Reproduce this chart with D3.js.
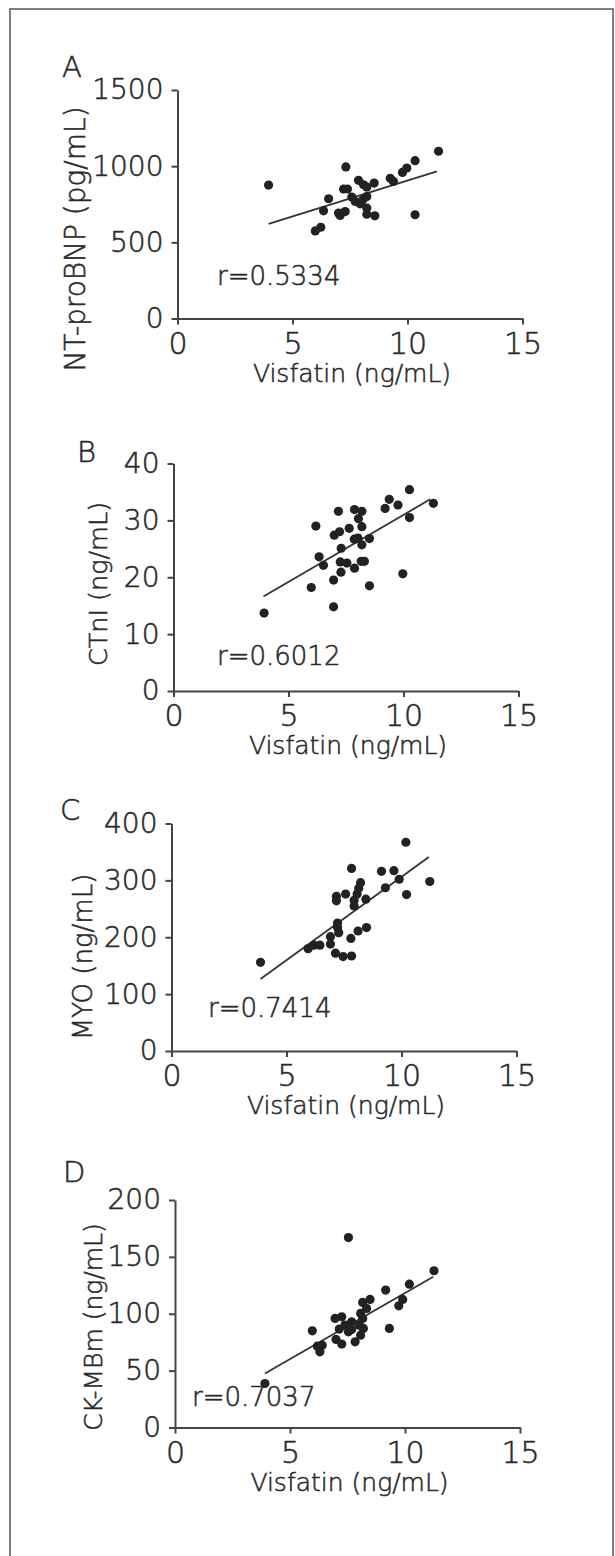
<!DOCTYPE html>
<html>
<head>
<meta charset="utf-8">
<script src="https://cdn.jsdelivr.net/npm/d3@7"></script>
<style>
  body { margin: 0; background: #fff; }
  svg text { font-family: "DejaVu Sans", sans-serif; font-weight: 300; fill: #2a2a2a; stroke: #2a2a2a; stroke-width: 0.55px; }
</style>
</head>
<body>
<div class="canvas"></div>
<script>
// values
const xTicks = [0, 5, 10, 15];
const xTitle = 'Visfatin (ng/mL)';

const visfatinA = [3.96, 7.32, 11.35, 10.33, 9.97, 9.78, 9.25, 9.39, 7.87, 8.09, 8.55, 8.23, 7.22, 7.39, 6.57, 7.58, 7.73, 8.06, 8.23, 7.94, 6.35, 7.0, 7.29, 7.07, 8.23, 8.23, 8.58, 10.33, 5.99, 6.23];
const ntprobnp = [876, 995, 1098, 1036, 988, 959, 920, 900, 907, 878, 889, 863, 850, 850, 786, 797, 768, 779, 801, 753, 707, 692, 702, 676, 725, 685, 674, 681, 575, 599];
const fitA = [[3.96, 621], [11.28, 966]];

const visfatinB = [3.94, 6.96, 5.99, 6.96, 8.52, 9.97, 7.28, 7.87, 6.52, 6.33, 7.25, 7.54, 8.16, 8.3, 7.29, 8.19, 7.86, 8.02, 8.52, 8.19, 7.64, 6.19, 6.99, 7.22, 7.17, 7.87, 8.19, 8.04, 9.2, 9.38, 9.76, 10.26, 11.3, 10.26];
const ctni = [13.7, 14.8, 18.2, 19.5, 18.5, 20.6, 20.9, 21.6, 22.1, 23.6, 22.7, 22.5, 22.8, 22.8, 25.1, 25.7, 26.7, 26.9, 26.8, 28.9, 28.6, 29.0, 27.4, 28.0, 31.6, 31.9, 31.6, 30.3, 32.1, 33.7, 32.7, 35.4, 33.0, 30.5];
const fitB = [[3.91, 16.6], [11.16, 33.7]];

const visfatinC = [3.87, 10.19, 11.23, 7.83, 9.13, 9.67, 9.9, 9.3, 10.22, 8.22, 8.14, 8.07, 7.17, 7.57, 7.17, 7.94, 8.45, 7.94, 7.22, 7.22, 7.27, 8.11, 8.48, 7.8, 6.91, 6.91, 5.94, 6.19, 6.45, 7.13, 7.46, 7.83];
const myo = [156, 367, 298, 321, 316, 317, 302, 287, 275, 296, 286, 276, 272, 276, 264, 265, 267, 255, 225, 217, 208, 211, 217, 198, 201, 188, 180, 186, 186, 172, 166, 167];
const fitC = [[3.87, 126.5], [11.19, 341]];

const visfatinD = [3.91, 7.54, 11.26, 10.19, 9.16, 9.9, 9.73, 9.32, 8.48, 8.16, 8.33, 8.07, 6.96, 7.25, 8.16, 7.68, 7.39, 8.01, 7.68, 7.14, 8.19, 5.97, 8.07, 7.0, 7.83, 7.25, 6.4, 6.19, 6.3, 7.54];
const ckmb = [38.7, 167, 137.8, 126, 120.8, 112.6, 107, 87.1, 112.6, 110, 104.7, 100.3, 95.9, 97.3, 95.9, 92.9, 90, 90, 86.2, 86.5, 87.1, 85, 81.2, 77.4, 75.3, 73.3, 72.4, 71.5, 66.5, 84.1];
const fitD = [[3.91, 47.5], [11.23, 132.5]];

const panelLetters = ['A', 'B', 'C', 'D'];
const yTitles = ['NT-proBNP (pg/mL)', 'CTnI (ng/mL)', 'MYO (ng/mL)', 'CK-MBm (ng/mL)'];
const yTicks = [[0, 500, 1000, 1500], [0, 10, 20, 30, 40], [0, 100, 200, 300, 400], [0, 50, 100, 150, 200]];
const rValues = ['r=0.5334', 'r=0.6012', 'r=0.7414', 'r=0.7037'];

const xs = [visfatinA, visfatinB, visfatinC, visfatinD];
const ys = [ntprobnp, ctni, myo, ckmb];
const fits = [fitA, fitB, fitC, fitD];

// layout of each panel (pixels)
const layout = [
    {left: 177.5, top: 90, bottom: 318.5, letter: [62, 77], yt: [75, 239, 28], r: [217, 285]},
    {left: 173.5, top: 463.5, bottom: 691, letter: [77, 462], yt: [98, 584, 25.5], r: [217, 665]},
    {left: 171.5, top: 823.5, bottom: 1051, letter: [60, 820], yt: [83, 957, 26], r: [208, 1017]},
    {left: 175, top: 1200, bottom: 1427.5, letter: [63, 1182], yt: [93, 1327, 25], r: [192, 1406]}
];
const plotW = 345;

const svg = d3.select('.canvas')
    .append('svg')
    .attr('width', 615)
    .attr('height', 1556);

svg.append('rect')
    .attr('x', 10)
    .attr('y', 9)
    .attr('width', 603)
    .attr('height', 1600)
    .attr('fill', 'none')
    .attr('stroke', '#555')
    .attr('stroke-width', 1.5);

layout.forEach((L, i) => {
    const yMax = yTicks[i][yTicks[i].length - 1];
    const x = d3.scaleLinear().domain([0, 15]).range([L.left, L.left + plotW]);
    const y = d3.scaleLinear().domain([0, yMax]).range([L.bottom, L.top]);

    const g = svg.append('g');

    const xAxis = d3.axisBottom(x).tickValues(xTicks).tickSizeInner(6).tickSizeOuter(0);
    const yAxis = d3.axisLeft(y).tickValues(yTicks[i]).tickFormat(d3.format('d'))
        .tickSizeInner(6).tickSizeOuter(0).tickPadding(8);

    const xg = g.append('g')
        .attr('transform', `translate(0, ${L.bottom})`)
        .call(xAxis);
    const yg = g.append('g')
        .attr('transform', `translate(${L.left}, 0)`)
        .call(yAxis);

    [xg, yg].forEach(a => {
        a.attr('font-family', null).attr('font-size', null);
        a.select('.domain').attr('stroke', '#444').attr('stroke-width', 2);
        a.selectAll('.tick line').attr('stroke', '#444').attr('stroke-width', 2);
        a.selectAll('text').attr('fill', null);
    });
    xg.selectAll('text')
        .attr('font-size', 30)
        .attr('y', 35)
        .attr('dy', 0);
    yg.selectAll('text')
        .attr('font-size', 28);

    // x title
    g.append('text')
        .attr('x', L.left + plotW / 2 + 2)
        .attr('y', L.bottom + 63)
        .attr('text-anchor', 'middle')
        .attr('font-size', 25)
        .text(xTitle);

    // y title
    g.append('text')
        .attr('transform', `translate(${L.yt[0]}, ${L.yt[1]}) rotate(-90)`)
        .attr('text-anchor', 'middle')
        .attr('dy', '0.35em')
        .attr('font-size', L.yt[2])
        .text(yTitles[i]);

    // panel letter
    g.append('text')
        .attr('x', L.letter[0])
        .attr('y', L.letter[1])
        .attr('font-size', 29)
        .text(panelLetters[i]);

    // r value
    g.append('text')
        .attr('x', L.r[0])
        .attr('y', L.r[1])
        .attr('font-size', 26)
        .text(rValues[i]);

    const line = d3.line()
        .x(d => x(d[0]))
        .y(d => y(d[1]));

    g.append('path')
        .datum(fits[i])
        .attr('fill', 'none')
        .attr('stroke', '#333')
        .attr('stroke-width', 1.8)
        .attr('d', line);

    g.selectAll('circle')
        .data(xs[i].map((v, k) => [v, ys[i][k]]))
        .enter()
        .append('circle')
        .attr('cx', d => x(d[0]))
        .attr('cy', d => y(d[1]))
        .attr('r', 4.6)
        .attr('fill', '#222');
});
</script>
</body>
</html>
